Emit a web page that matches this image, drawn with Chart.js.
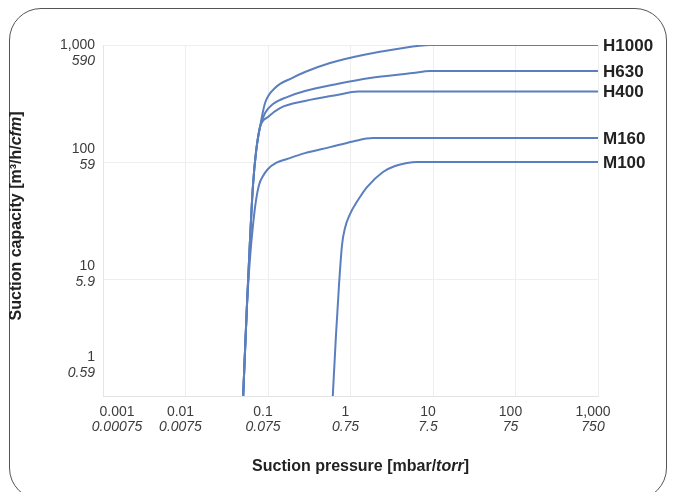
<!DOCTYPE html>
<html><head><meta charset="utf-8">
<script src="https://cdn.jsdelivr.net/npm/chart.js@4.4.1/dist/chart.umd.min.js"></script>
<style>
html,body{margin:0;padding:0;background:#fff;}
#wrap{position:relative;width:673px;height:492px;overflow:hidden;}
#frame{position:absolute;left:9px;top:8px;width:658px;height:492px;border:1px solid #555;border-radius:32px;box-sizing:border-box;}
#c{position:absolute;left:0;top:0;}
</style></head>
<body><div id="wrap"><div id="frame"></div><canvas id="c" width="673" height="492"></canvas></div>
<script>
// ---- data ----
const seriesNames = ['H1000', 'H630', 'H400', 'M160', 'M100'];

const h1000X = [0.05, 0.0556, 0.0605, 0.0658, 0.0716, 0.08, 0.0921, 0.1216, 0.1954, 0.2807, 0.5645, 1.419, 3.66, 9.2, 1000];
const h1000Y = [1, 6, 21.5, 63.6, 122, 199, 319, 429, 522, 588, 702, 821, 924, 1000, 1000];

const h630X = [0.05, 0.0556, 0.0605, 0.0658, 0.0716, 0.08, 0.0921, 0.115, 0.17, 0.2807, 0.686, 1.724, 5.72, 9.2, 1000];
const h630Y = [1, 6, 21.5, 63.6, 122, 199, 262, 313, 359, 404, 464, 522, 576, 600, 600];

const h400X = [0.05, 0.0556, 0.0605, 0.0658, 0.0716, 0.08, 0.1, 0.1398, 0.2807, 0.686, 1.233, 1000];
const h400Y = [1, 6, 21.5, 63.6, 122, 199, 242, 289, 332, 374, 400, 400];

const m160X = [0.05, 0.0556, 0.0605, 0.0658, 0.0716, 0.0778, 0.087, 0.1, 0.125, 0.17, 0.2807, 0.5645, 1.072, 1.875, 1000];
const m160Y = [1, 6, 15.1, 28.9, 47.3, 63.6, 75.9, 87.1, 98.1, 106, 119, 134, 150, 160, 160];

const m100X = [0.61, 0.667, 0.7255, 0.789, 0.858, 0.986, 1.233, 1.585, 2.477, 3.463, 4.84, 6.4, 1000];
const m100Y = [1, 3.32, 8.89, 19.5, 27.3, 35.9, 47.3, 61.1, 82.2, 92.4, 98, 100, 100];

const xTickValues = [0.001, 0.01, 0.1, 1, 10, 100, 1000];
const xTickMbar   = ['0.001', '0.01', '0.1', '1', '10', '100', '1,000'];
const xTickTorr   = ['0.00075', '0.0075', '0.075', '0.75', '7.5', '75', '750'];

const yTickValues = [1, 10, 100, 1000];
const yTickM3h    = ['1', '10', '100', '1,000'];
const yTickCfm    = ['0.59', '5.9', '59', '590'];

const xTitleParts = [['Suction pressure [mbar/', false], ['torr', true], [']', false]];
const yTitleParts = [['Suction capacity [m³/h/', false], ['cfm', true], [']', false]];

// ---- build ----
const seriesX = [h1000X, h630X, h400X, m160X, m100X];
const seriesY = [h1000Y, h630Y, h400Y, m160Y, m100Y];
const lineColor = '#5b7fbe';
const FONT = '"Liberation Sans", Arial, Helvetica, sans-serif';

const datasets = seriesNames.map((name, i) => ({
  label: name,
  data: seriesX[i].map((x, j) => ({ x: x, y: seriesY[i][j] })),
  borderColor: lineColor,
  borderWidth: 2,
  pointRadius: 0,
  fill: false,
  cubicInterpolationMode: 'monotone'
}));

function drawParts(ctx, parts, cx, cy, size) {
  let total = 0;
  parts.forEach(p => {
    ctx.font = (p[1] ? 'italic ' : '') + 'bold ' + size + 'px ' + FONT;
    total += ctx.measureText(p[0]).width;
  });
  let x = cx - total / 2;
  ctx.textAlign = 'left';
  ctx.textBaseline = 'middle';
  parts.forEach(p => {
    ctx.font = (p[1] ? 'italic ' : '') + 'bold ' + size + 'px ' + FONT;
    ctx.fillText(p[0], x, cy);
    x += ctx.measureText(p[0]).width;
  });
}

const textPlugin = {
  id: 'texts',
  afterDraw(chart) {
    const ctx = chart.ctx;
    const a = chart.chartArea;
    const xs = chart.scales.x, ys = chart.scales.y;
    ctx.save();
    ctx.fillStyle = '#3c3c3c';
    // x tick labels
    ctx.textAlign = 'center';
    ctx.textBaseline = 'middle';
    xTickValues.forEach((v, i) => {
      const px = Math.max(xs.getPixelForValue(v) - 5, a.left + 14);
      ctx.font = '14px ' + FONT;
      ctx.fillText(xTickMbar[i], px, a.bottom + 16);
      ctx.font = 'italic 14px ' + FONT;
      ctx.fillText(xTickTorr[i], px, a.bottom + 31);
    });
    // y tick labels
    ctx.textAlign = 'right';
    yTickValues.forEach((v, i) => {
      let c = ys.getPixelForValue(v) - 5;
      c = Math.max(c, a.top + 8);
      c = Math.min(c, a.bottom - 31);
      ctx.font = '14px ' + FONT;
      ctx.fillText(yTickM3h[i], a.left - 8, c - 8);
      ctx.font = 'italic 14px ' + FONT;
      ctx.fillText(yTickCfm[i], a.left - 8, c + 8);
    });
    // series labels at right end
    ctx.fillStyle = '#222';
    ctx.textAlign = 'left';
    ctx.font = 'bold 17px ' + FONT;
    seriesNames.forEach((name, i) => {
      const yv = seriesY[i][seriesY[i].length - 1];
      ctx.fillText(name, a.right + 5, ys.getPixelForValue(yv) + 1);
    });
    // axis titles
    ctx.fillStyle = '#222';
    drawParts(ctx, xTitleParts, (a.left + a.right) / 2 + 10, a.bottom + 71, 16);
    ctx.save();
    ctx.translate(17, 216);
    ctx.rotate(-Math.PI / 2);
    drawParts(ctx, yTitleParts, 0, 0, 16);
    ctx.restore();
    ctx.restore();
  }
};

new Chart(document.getElementById('c'), {
  type: 'line',
  data: { datasets: datasets },
  options: {
    responsive: false,
    animation: false,
    layout: { padding: { left: 103, top: 45, right: 75, bottom: 96 } },
    plugins: { legend: { display: false }, tooltip: { enabled: false } },
    scales: {
      x: {
        type: 'logarithmic', min: 0.001, max: 1000,
        afterBuildTicks: s => { s.ticks = xTickValues.map(v => ({ value: v })); },
        ticks: { display: false },
        grid: { color: '#eeeeee', lineWidth: 1, drawTicks: false },
        border: { color: '#e4e4e4' }
      },
      y: {
        type: 'logarithmic', min: 1, max: 1000,
        afterBuildTicks: s => { s.ticks = yTickValues.map(v => ({ value: v })); },
        ticks: { display: false },
        grid: { color: '#eeeeee', lineWidth: 1, drawTicks: false },
        border: { color: '#e4e4e4' }
      }
    }
  },
  plugins: [textPlugin]
});
</script>
</body></html>
